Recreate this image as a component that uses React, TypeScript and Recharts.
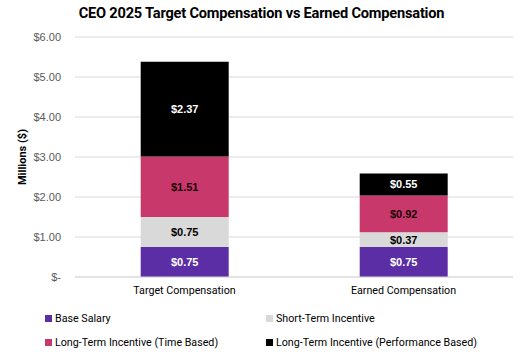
import React from "react";
import { BarChart, Bar, XAxis, YAxis, CartesianGrid, LabelList } from "recharts";

const categories = ["Target Compensation", "Earned Compensation"];
const baseSalary = [0.75, 0.75];
const shortTerm = [0.75, 0.37];
const ltiTime = [1.51, 0.92];
const ltiPerf = [2.37, 0.55];
const yTicks = [0, 1, 2, 3, 4, 5, 6];

const seriesNames = [
  "Base Salary",
  "Short-Term Incentive",
  "Long-Term Incentive (Time Based)",
  "Long-Term Incentive (Performance Based)",
];
const seriesKeys = ["base", "sti", "ltiTime", "ltiPerf"];
const seriesColors = ["#5B2EA6", "#D9D9D9", "#C9386B", "#000000"];
const labelColors = ["#FFFFFF", "#000000", "#1a0008", "#FFFFFF"];

const data = categories.map((c, i) => ({
  name: c,
  base: baseSalary[i],
  sti: shortTerm[i],
  ltiTime: ltiTime[i],
  ltiPerf: ltiPerf[i],
}));

const FONT = "Roboto, 'Liberation Sans', sans-serif";

const fmtY = (v: number) => (v === 0 ? "$-" : "$" + v.toFixed(2));

const makeLabel = (color: string) => (props: any) => {
  const { x, y, width, height, value } = props;
  return (
    <text
      x={x + width / 2}
      y={y + height / 2}
      dy={4}
      textAnchor="middle"
      fill={color}
      fontFamily="'Liberation Sans', Arial, sans-serif"
      fontWeight="bold"
      fontSize={11}
    >
      {"$" + Number(value).toFixed(2)}
    </text>
  );
};

export default function App() {
  const legendPos = [
    { left: 45, top: 312 },
    { left: 266, top: 312 },
    { left: 45, top: 336 },
    { left: 266, top: 336 },
  ];
  return (
    <div style={{ position: "absolute", left: 0, top: 0, width: 523, height: 354, background: "#fff", fontFamily: FONT }}>
      <div
        style={{
          position: "absolute",
          left: 0,
          top: 4,
          width: 523,
          textAlign: "center",
          fontSize: 14.6,
          fontWeight: 700,
          color: "#000",
          letterSpacing: -0.2,
        }}
      >
        CEO 2025 Target Compensation vs Earned Compensation
      </div>
      <div
        style={{
          position: "absolute",
          left: 22,
          top: 157,
          transform: "translate(-50%, -50%) rotate(-90deg)",
          fontSize: 11,
          fontWeight: 700,
          whiteSpace: "nowrap",
          color: "#000",
        }}
      >
        Millions ($)
      </div>
      <BarChart
        width={523}
        height={354}
        data={data}
        margin={{ top: 37, right: 10, bottom: 47, left: 0 }}
        barCategoryGap="30%"
      >
        <CartesianGrid vertical={false} stroke="#D9D9D9" />
        <XAxis
          dataKey="name"
          axisLine={{ stroke: "#D9D9D9" }}
          tickLine={false}
          tickMargin={3}
          tick={{ fill: "#000", fontSize: 10.7, fontFamily: FONT }}
        />
        <YAxis
          width={75}
          domain={[0, 6]}
          ticks={yTicks}
          tickFormatter={fmtY}
          axisLine={false}
          tickLine={false}
          tickMargin={8}
          tick={{ fill: "#595959", fontSize: 11, fontFamily: "'Liberation Sans', Arial, sans-serif" }}
        />
        {seriesKeys.map((k, i) => (
          <Bar key={k} dataKey={k} stackId="a" fill={seriesColors[i]} isAnimationActive={false}>
            <LabelList dataKey={k} content={makeLabel(labelColors[i])} />
          </Bar>
        ))}
      </BarChart>
      {seriesNames.map((n, i) => (
        <div
          key={n}
          style={{
            position: "absolute",
            left: legendPos[i].left,
            top: legendPos[i].top,
            display: "flex",
            alignItems: "center",
            fontSize: 10.7,
            color: "#000",
            whiteSpace: "nowrap",
          }}
        >
          <span style={{ display: "inline-block", width: 7, height: 7, background: seriesColors[i], marginRight: 3 }} />
          {n}
        </div>
      ))}
    </div>
  );
}
